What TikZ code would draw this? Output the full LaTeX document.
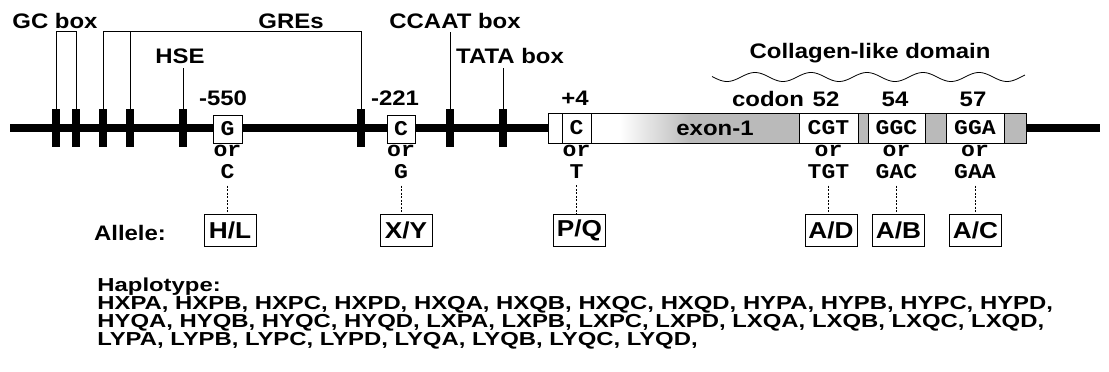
\documentclass[tikz,border=0pt]{standalone}
\usepackage{fontspec}
\newfontfamily\labfont[FakeStretch=1.14]{Liberation Sans}
\newfontfamily\hapfont[FakeStretch=1.27]{Liberation Sans}
\newfontfamily\seqfont[FakeStretch=1.1]{Liberation Mono}
\usetikzlibrary{positioning}

\begin{document}
\begin{tikzpicture}[x=1pt, y=-1pt, line width=0.8pt]
	% Styles
	\tikzstyle{lab} = [font=\labfont\bfseries\fontsize{21}{21}\selectfont, inner sep=0pt, anchor=base]
	\tikzstyle{hap} = [font=\hapfont\bfseries\fontsize{18.8}{18.8}\selectfont, inner sep=0pt, anchor=base west]
	\tikzstyle{bar} = [fill=black, minimum width=8, minimum height=38, inner sep=0pt]
	\tikzstyle{snp} = [draw, fill=white, minimum height=28, inner sep=0pt, font=\seqfont\bfseries\fontsize{21}{21}\selectfont]
	\tikzstyle{seq} = [inner sep=0pt, anchor=base, font=\seqfont\bfseries\fontsize{21}{21}\selectfont]
	\tikzstyle{allele} = [draw, minimum width=52, minimum height=32, inner sep=0pt, font=\labfont\bfseries\fontsize{23}{23}\selectfont]
	\tikzstyle{link} = [dash pattern=on 2pt off 1.5pt, line width=1pt]
	\tikzstyle{dna} = [line width=7.5pt]

	\useasboundingbox (0,0) rectangle (1109,372);

	% Exon-1
	\fill[black!27] (690,113) rectangle (1026,143);
	\shade[left color=white, right color=black!27] (620,113) rectangle (690,143);
	\node[draw, minimum width=478, minimum height=30, inner sep=0pt] (exon) at (787,128) {};
	\node[lab] at (715,135) {exon-1};

	% DNA line
	\coordinate (left) at (10,128);
	\coordinate (right) at (1100,128);
	\draw[dna] (left) -- (exon.west);
	\draw[dna] (exon.east) -- (right);

	% Promoter elements
	\foreach \x [count=\i] in {56,76,103,130,183,361,450,503}
		\node[bar] (b\i) at (\x,128) {};
	\draw (b1.north) -- ++(0,-77) -| (b2.north);
	\draw (b3.north) -- ++(0,-77) -| (b6.north);
	\draw (b4.north) -- ++(0,-77);
	\draw (b7.north) -- ++(0,-77);
	\draw (b5.north) -- ++(0,-41);
	\draw (b8.north) -- ++(0,-41);
	\node[lab] at (55,28) {GC box};
	\node[lab] at (291,28) {GREs};
	\node[lab] at (455,28) {CCAAT box};
	\node[lab] at (180,63) {HSE};
	\node[lab] at (510,63) {TATA box};

	% Collagen-like domain
	\draw plot[domain=712:1025, samples=150, smooth] (\x, {77-4.5*cos((\x-755)/56*360)});
	\node[lab] at (870,58) {Collagen-like domain};

	% Polymorphic sites
	\node[snp, minimum width=29] (s550) at (227.5,129) {G};
	\node[snp, minimum width=28] (s221) at (401,129) {C};
	\node[snp, minimum width=29, minimum height=30] (s4) at (576.5,128) {C};
	\node[snp, minimum width=59, minimum height=30] (c52) at (828.5,128) {CGT};
	\node[snp, minimum width=57, minimum height=30] (c54) at (896.5,128) {GGC};
	\node[snp, minimum width=58, minimum height=30] (c57) at (975,128) {GGA};

	\node[lab] at (223,105) {-550};
	\node[lab] at (395,105) {-221};
	\node[lab] at (575,105) {+4};
	\node[lab] at (768,106) {codon};
	\node[lab] at (826,106) {52};
	\node[lab] at (895,106) {54};
	\node[lab] at (973,106) {57};

	\node[seq] at (s550 |- 0,156) {or};
	\node[seq] at (s221 |- 0,156) {or};
	\node[seq] at (s4 |- 0,156) {or};
	\node[seq] at (c52 |- 0,156) {or};
	\node[seq] at (c54 |- 0,156) {or};
	\node[seq] at (c57 |- 0,156) {or};
	\node[seq] (a550) at (s550 |- 0,178) {C};
	\node[seq] (a221) at (s221 |- 0,178) {G};
	\node[seq] (a4) at (s4 |- 0,178) {T};
	\node[seq] (a52) at (c52 |- 0,178) {TGT};
	\node[seq] (a54) at (c54 |- 0,178) {GAC};
	\node[seq] (a57) at (c57 |- 0,178) {GAA};

	% Alleles
	\node[lab] at (130,240) {Allele:};
	\node[allele] (hl) at (230,230) {H/L};
	\node[allele] (xy) at (406,230) {X/Y};
	\node[allele] (pq) at (579.5,230) {P/Q};
	\node[allele] (ad) at (831,230) {A/D};
	\node[allele] (ab) at (898.5,230) {A/B};
	\node[allele] (ac) at (975.5,230) {A/C};

	% Connections
	\draw[link] ([yshift=-7pt]a550.south) -- (a550 |- hl.north);
	\draw[link] ([yshift=-7pt]a221.south) -- (a221 |- xy.north);
	\draw[link] ([yshift=-7pt]a4.south) -- (a4 |- pq.north);
	\draw[link] ([yshift=-7pt]a52.south) -- (a52 |- ad.north);
	\draw[link] ([yshift=-7pt]a54.south) -- (a54 |- ab.north);
	\draw[link] ([yshift=-7pt]a57.south) -- (a57 |- ac.north);

	% Haplotypes
	\node[hap] (hapt) at (97,291) {Haplotype:};
	\node[hap] (hap1) at (97,309) {HXPA, HXPB, HXPC, HXPD, HXQA, HXQB, HXQC, HXQD, HYPA, HYPB, HYPC, HYPD,};
	\node[hap] (hap2) at (97,327) {HYQA, HYQB, HYQC, HYQD, LXPA, LXPB, LXPC, LXPD, LXQA, LXQB, LXQC, LXQD,};
	\node[hap] (hap3) at (97,345) {LYPA, LYPB, LYPC, LYPD, LYQA, LYQB, LYQC, LYQD,};
\end{tikzpicture}
\end{document}
